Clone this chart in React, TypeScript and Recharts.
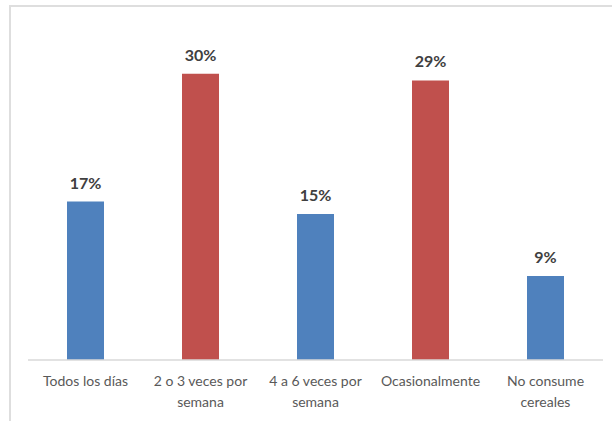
import { BarChart, Bar, XAxis, YAxis, Cell, LabelList } from "recharts";

const categories = [
  "Todos los días",
  "2 o 3 veces por\nsemana",
  "4 a 6 veces por\nsemana",
  "Ocasionalmente",
  "No consume\ncereales",
];
const values = [16.6, 30, 15.3, 29.3, 8.8];
const barColors = ["#4F81BD", "#C0504D", "#4F81BD", "#C0504D", "#4F81BD"];

const data = categories.map((name, i) => ({ name, value: values[i], color: barColors[i] }));

const FONT = "Lato, 'Liberation Sans', sans-serif";

function CategoryTick(props: any) {
  const { x, y, payload } = props;
  const lines = String(payload.value).split("\n");
  return (
    <text x={x} y={y} textAnchor="middle" fill="#595959" fontSize={14} fontFamily={FONT}>
      {lines.map((line, i) => (
        <tspan key={i} x={x} dy={i === 0 ? 18 : 21}>
          {line}
        </tspan>
      ))}
    </text>
  );
}

export default function App() {
  return (
    <div style={{ position: "absolute", left: 0, top: 0, width: 612, height: 421, background: "#fff" }}>
      <div
        style={{
          position: "absolute",
          left: 9,
          top: 5,
          width: 610,
          height: 420,
          borderTop: "2px solid #dedede",
          borderLeft: "2px solid #dedede",
        }}
      />
      <BarChart
        width={612}
        height={421}
        data={data}
        margin={{ top: 26, right: 9, bottom: 0, left: 28 }}
        barSize={37}
        style={{ position: "absolute", left: 0, top: 0 }}
      >
        <XAxis
          dataKey="name"
          axisLine={{ stroke: "#d9d9d9", strokeWidth: 1.5 }}
          tickLine={false}
          interval={0}
          height={61}
          tick={<CategoryTick />}
        />
        <YAxis hide domain={[0, 35]} />
        <Bar dataKey="value" isAnimationActive={false}>
          {data.map((d) => (
            <Cell key={d.name} fill={d.color} />
          ))}
          <LabelList
            dataKey="value"
            position="top"
            offset={13}
            formatter={(v: any) => `${Math.round(Number(v))}%`}
            style={{ fill: "#404040", fontSize: 16, fontWeight: 700, fontFamily: FONT }}
          />
        </Bar>
      </BarChart>
    </div>
  );
}
